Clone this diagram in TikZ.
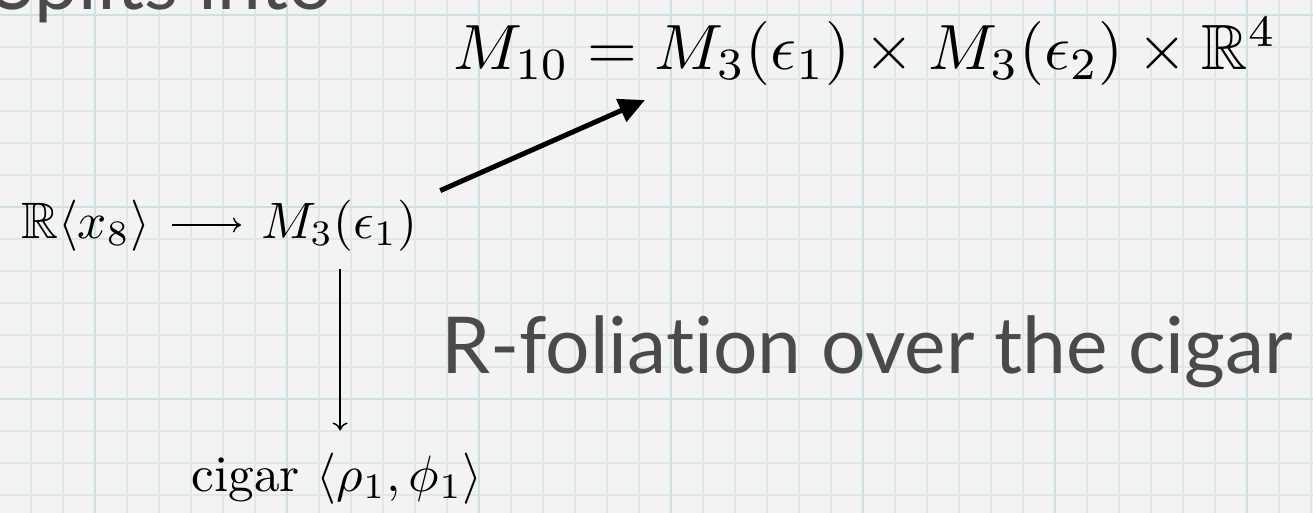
\RequirePackage{fix-cm}
\documentclass[tikz,border=0pt]{standalone}
\usepackage{amssymb}
\DeclareFontFamily{U}{msb}{}
\DeclareFontShape{U}{msb}{m}{n}{<-6> msbm5 <6-8> msbm7 <8-> msbm10}{}
\usepackage{fontspec}
\setsansfont{Lato}[Ligatures=NoCommon]
\usetikzlibrary{arrows.meta}
\definecolor{bgc}{RGB}{243,243,243}
\definecolor{gridc}{RGB}{222,232,234}
\definecolor{gridh}{RGB}{208,223,227}
\definecolor{slidegray}{RGB}{74,74,74}
\tikzset{
  mathbig/.style={inner sep=0pt, font=\normalsize, text=black, scale=6.4, transform shape},
  mathmid/.style={inner sep=0pt, font=\normalsize, text=black, scale=5.12, transform shape},
  slide/.style={inner sep=0pt, font=\sffamily\fontsize{78.5}{84}\selectfont, text=slidegray},
  thinarr/.style={line width=1.4pt, -{Computer Modern Rightarrow[length=8pt,width=15pt]}},
  thickarr/.style={line width=5pt, -{Triangle[length=26pt,width=24pt]}},
  gridline/.style={gridc, line width=1.2pt},
  gridheavy/.style={gridh, line width=2pt},
}
\begin{document}
\begin{tikzpicture}[x=1pt,y=-1pt]
\useasboundingbox (0,0) rectangle (1313,513);
\clip (0,0) rectangle (1313,513);
\fill[bgc] (0,0) rectangle (1313,513);
% grid
\foreach \x in {-1,31,...,1311} \draw[gridline] (\x,0) -- (\x,513);
\foreach \y in {15,47,...,511} \draw[gridline] (0,\y) -- (1313,\y);
\foreach \x in {95,287,...,1311} \draw[gridheavy] (\x,0) -- (\x,513);
\foreach \y in {15,207,399} \draw[gridheavy] (0,\y) -- (1313,\y);
% texts
\node[slide, anchor=base east] (hdr) at (333,10) {Splits into};
\node[mathbig, anchor=base west] (M10) at (452,70)
  {$M_{10} = M_3(\epsilon_1)\times M_3(\epsilon_2)\times\mathbb{R}^4$};
\node[mathmid, anchor=base west] (R) at (20,238) {$\mathbb{R}\langle x_8\rangle$};
\node[mathmid, anchor=base west] (M3) at (260,238) {$M_3(\epsilon_1)$};
\node[mathmid, anchor=base] (cig) at (337,491) {cigar $\langle\rho_1,\phi_1\rangle$};
\node[slide, anchor=base west] (fol) at (441,373) {R-foliation over the cigar};
% connectors
\draw[thinarr, shorten <=21pt, shorten >=19pt]
  ([yshift=13pt]R.base east) -- ([yshift=13pt]M3.base west);
\draw[thinarr, shorten <=17pt, shorten >=21pt]
  ([xshift=1pt]M3.south) -- ([xshift=1pt]M3.south |- cig.north);
\draw[thickarr]
  ([xshift=22pt,yshift=8pt]M3.north east) -- ([xshift=193pt,yshift=-30pt]M10.base west);
\end{tikzpicture}
\end{document}
